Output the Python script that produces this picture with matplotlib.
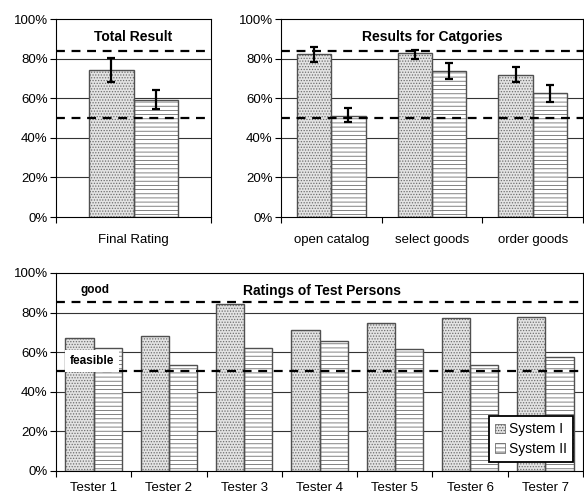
import numpy as np
import matplotlib.pyplot as plt
from matplotlib.patches import Patch

plt.rcParams['font.family'] = ['Liberation Sans', 'DejaVu Sans']
plt.rcParams['hatch.linewidth'] = 0.6

# data
total_labels = ['Final Rating']
total_s1 = [74.3]
total_s2 = [59.3]
total_s1_err = [[6.3], [6.0]]
total_s2_err = [[4.8], [4.6]]

cat_labels = ['open catalog', 'select goods', 'order goods']
cat_s1 = [82.1, 82.6, 71.8]
cat_s2 = [50.9, 73.5, 62.6]
cat_s1_err = [[3.9, 2.7, 3.5], [3.6, 1.7, 4.1]]
cat_s2_err = [[3.0, 3.7, 4.4], [4.1, 4.1, 4.0]]

tester_labels = ['Tester 1', 'Tester 2', 'Tester 3', 'Tester 4', 'Tester 5', 'Tester 6', 'Tester 7']
tester_s1 = [67.2, 68.4, 84.5, 71.2, 74.9, 77.3, 77.8]
tester_s2 = [62.3, 53.7, 62.3, 65.5, 61.6, 53.4, 57.6]

top_good, top_feasible = 83.6, 50.1
tester_good, tester_feasible = 85.2, 50.5

S1_FACE = '#e3e3e3'
S1_HATCH = '......'
S2_FACE = 'white'
S2_HATCH = '----'


def bars(ax, x, vals, width, face, hatch, err=None):
    ax.bar(x, vals, width, color=face, hatch=hatch, edgecolor='#6e6e6e', linewidth=0, zorder=2)
    ax.bar(x, vals, width, fill=False, edgecolor='#505050', linewidth=1.0, zorder=3)
    if err is not None:
        ax.errorbar(x, vals, yerr=err, fmt='none', ecolor='black', elinewidth=1.6,
                    capsize=3, capthick=1.6, zorder=5)


def style(ax, labels, title, good, feasible, title_x=0.5, pad=11):
    n = len(labels)
    ax.set_xlim(-0.5, n - 0.5)
    ax.set_ylim(0, 100)
    ax.set_yticks([0, 20, 40, 60, 80, 100])
    ax.set_yticklabels(['0%', '20%', '40%', '60%', '80%', '100%'], fontsize=9.5)
    for v in [20, 40, 60, 80]:
        ax.axhline(v, color='#333333', lw=0.8, zorder=1)
    for v in [good, feasible]:
        ax.axhline(v, color='black', lw=1.6, ls=(0, (4, 3)), zorder=4)
    ax.set_xticks(np.arange(n))
    ax.set_xticklabels(labels, fontsize=9.5)
    ax.tick_params(axis='x', length=0, pad=pad)
    ax.set_xticks(np.arange(n + 1) - 0.5, minor=True)
    ax.tick_params(axis='x', which='minor', length=4, width=0.8)
    ax.tick_params(axis='y', length=4, width=0.8, pad=2)
    for s in ax.spines.values():
        s.set_linewidth(0.8)
    ax.text(title_x, 0.91, title, transform=ax.transAxes, ha='center', va='center',
            fontsize=10, fontweight='bold', zorder=6)


fig = plt.figure(figsize=(5.84, 4.95), dpi=100)

ax1 = fig.add_axes([0.0959, 0.5616, 0.2654, 0.4])
w = 0.284
x = np.arange(len(total_labels))
bars(ax1, x - w / 2, total_s1, w, S1_FACE, S1_HATCH, total_s1_err)
bars(ax1, x + w / 2, total_s2, w, S2_FACE, S2_HATCH, total_s2_err)
style(ax1, total_labels, 'Total Result', top_good, top_feasible, pad=12)

ax2 = fig.add_axes([0.4812, 0.5616, 0.517, 0.4])
w = 0.34
x = np.arange(len(cat_labels))
bars(ax2, x - w / 2, cat_s1, w, S1_FACE, S1_HATCH, cat_s1_err)
bars(ax2, x + w / 2, cat_s2, w, S2_FACE, S2_HATCH, cat_s2_err)
style(ax2, cat_labels, 'Results for Catgories', top_good, top_feasible, pad=12)

ax3 = fig.add_axes([0.0959, 0.0485, 0.9024, 0.4])
w = 0.375
x = np.arange(len(tester_labels))
bars(ax3, x - w / 2, tester_s1, w, S1_FACE, S1_HATCH)
bars(ax3, x + w / 2, tester_s2, w, S2_FACE, S2_HATCH)
style(ax3, tester_labels, 'Ratings of Test Persons', tester_good, tester_feasible,
      title_x=0.505, pad=8)
ax3.text(0.02, 91.5, 'good', fontsize=8.5, fontweight='bold', ha='center', va='center', zorder=6)
ax3.text(-0.02, 55.5, 'feasible', fontsize=8.5, fontweight='bold', ha='center', va='center', zorder=6,
         bbox=dict(facecolor='white', edgecolor='none', pad=3.5))

handles = [Patch(facecolor=S1_FACE, hatch=S1_HATCH, edgecolor='#555555', linewidth=0.5),
           Patch(facecolor=S2_FACE, hatch=S2_HATCH, edgecolor='#555555', linewidth=0.5)]
leg = ax3.legend(handles, ['System I', 'System II'], loc='lower right', bbox_to_anchor=(0.981, 0.045),
                 fontsize=10, fancybox=False, framealpha=1, edgecolor='black',
                 handlelength=0.7, handleheight=0.7, handletextpad=0.3, borderpad=0.45,
                 labelspacing=0.4, borderaxespad=0)
leg.get_frame().set_linewidth(1.3)
leg.set_zorder(10)

fig.savefig('out.png', dpi=100)
